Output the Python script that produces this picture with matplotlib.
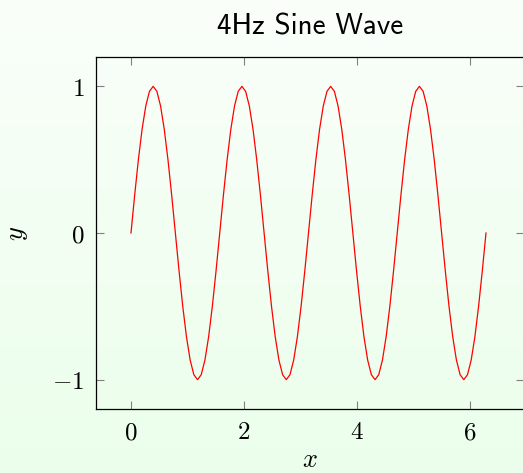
import numpy as np
import matplotlib
matplotlib.use('Agg')
import matplotlib.pyplot as plt

plt.rcParams['mathtext.fontset'] = 'cm'

# sampled values of the curve, one row per period
y = [0.000, 0.259, 0.500, 0.707, 0.866, 0.966, 1.000, 0.966, 0.866, 0.707, 0.500, 0.259,
     0.000, -0.259, -0.500, -0.707, -0.866, -0.966, -1.000, -0.966, -0.866, -0.707, -0.500, -0.259,
     0.000, 0.259, 0.500, 0.707, 0.866, 0.966, 1.000, 0.966, 0.866, 0.707, 0.500, 0.259,
     0.000, -0.259, -0.500, -0.707, -0.866, -0.966, -1.000, -0.966, -0.866, -0.707, -0.500, -0.259,
     0.000, 0.259, 0.500, 0.707, 0.866, 0.966, 1.000, 0.966, 0.866, 0.707, 0.500, 0.259,
     0.000, -0.259, -0.500, -0.707, -0.866, -0.966, -1.000, -0.966, -0.866, -0.707, -0.500, -0.259,
     0.000, 0.259, 0.500, 0.707, 0.866, 0.966, 1.000, 0.966, 0.866, 0.707, 0.500, 0.259,
     0.000, -0.259, -0.500, -0.707, -0.866, -0.966, -1.000, -0.966, -0.866, -0.707, -0.500, -0.259,
     0.000]
x = np.linspace(0, 2 * np.pi, len(y))

xticks = [0, 2, 4, 6]
yticks = [-1, 0, 1]

fig = plt.figure(figsize=(5.23, 4.73), dpi=100)

# pale green background gradient
bg = fig.add_axes([0, 0, 1, 1], zorder=-10)
top = np.array([250, 255, 250]) / 255
bot = np.array([235, 254, 235]) / 255
t = np.linspace(0, 1, 256)[:, None]
grad = (top * (1 - t) + bot * t)[:, None, :]
bg.imshow(grad, aspect='auto', extent=[0, 1, 0, 1])
bg.axis('off')

ax = fig.add_axes([95.5 / 523, 1 - 409 / 473, (524 - 95.5) / 523, (409 - 57) / 473])
ax.patch.set_alpha(0)
ax.plot(x, y, color='red', lw=0.9)

ax.set_xlim(-0.628, 6.956)
ax.set_ylim(-1.2, 1.2)
ax.set_xticks(xticks)
ax.set_yticks(yticks)
ax.set_xticklabels(['$%d$' % v for v in xticks])
ax.set_yticklabels(['$%d$' % v for v in yticks])
ax.tick_params(direction='in', length=6, width=0.8, color='#808080',
               top=True, right=True, labelsize=18, pad=8)
for s in ax.spines.values():
    s.set_linewidth(0.9)

ax.set_xlabel('$x$', fontsize=19, labelpad=2)
ax.set_ylabel('$y$', fontsize=19, labelpad=16)
ax.set_title('4Hz Sine Wave', fontsize=21, pad=16, family=['cmss10', 'DejaVu Sans'])

fig.savefig('out.png', dpi=100)
